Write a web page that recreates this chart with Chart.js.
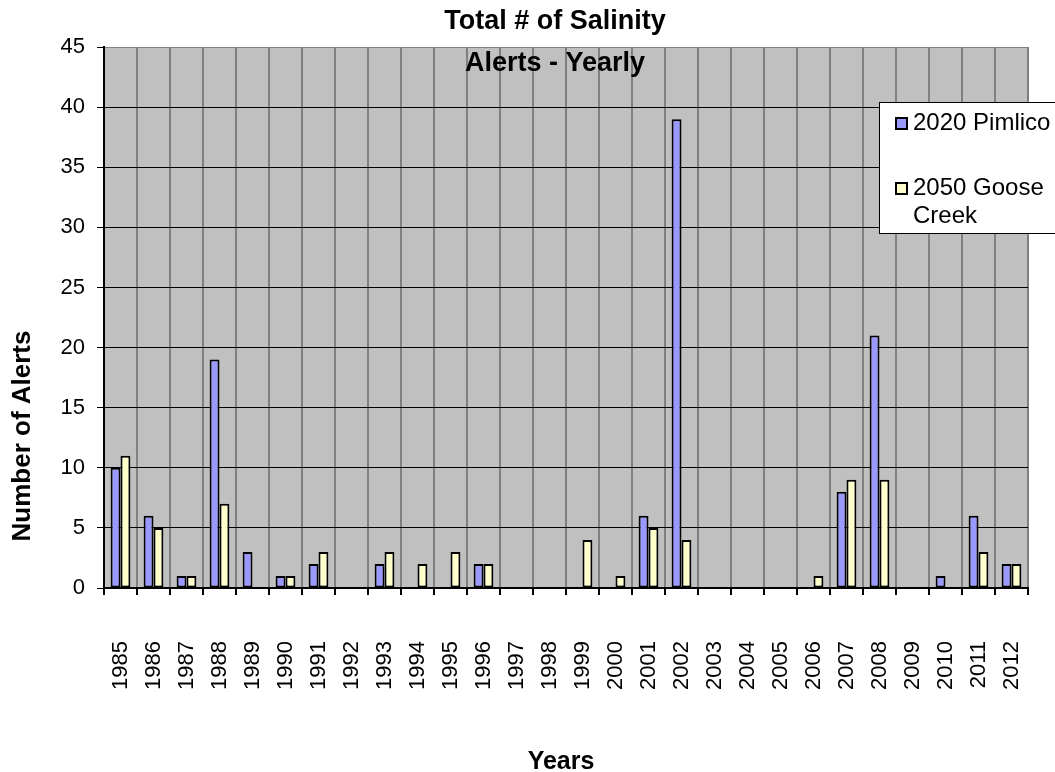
<!DOCTYPE html>
<html>
<head>
<meta charset="utf-8">
<script src="https://cdn.jsdelivr.net/npm/chart.js@4"></script>
<style>
  html, body { margin: 0; padding: 0; background: #fff; }
  #wrap { width: 1055px; height: 772px; }
</style>
</head>
<body>
<div id="wrap"><canvas id="alertsChart" width="1055" height="772"></canvas></div>
<script>
const years = ["1985", "1986", "1987", "1988", "1989", "1990", "1991", "1992", "1993", "1994",
    "1995", "1996", "1997", "1998", "1999", "2000", "2001", "2002", "2003", "2004",
    "2005", "2006", "2007", "2008", "2009", "2010", "2011", "2012"];

const pimlico = [10, 6, 1, 19, 3, 1, 2, 0, 2, 0, 0, 2, 0, 0, 0, 0, 6, 39, 0, 0, 0, 0, 8, 21, 0, 1, 6, 2];
const goose = [11, 5, 1, 7, 0, 1, 3, 0, 3, 2, 3, 2, 0, 0, 4, 1, 5, 4, 0, 0, 0, 1, 9, 9, 0, 0, 3, 2];

const titleLines = ["Total # of Salinity", "Alerts - Yearly"];
const seriesNames = ["2020 Pimlico", ["2050 Goose", "Creek"]];
const seriesColors = ["#9999FF", "#FFFFCC"];

const FONT = '"Liberation Sans", Arial, sans-serif';

// grey plot background, drawn before the grid
const plotBg = {
    id: "plotBg",
    beforeDraw(chart) {
        const { ctx, chartArea: a } = chart;
        ctx.save();
        ctx.fillStyle = "#C0C0C0";
        ctx.fillRect(a.left, a.top, a.right - a.left, a.bottom - a.top);
        ctx.restore();
    }
};

// title, axis titles and the boxed legend sit where excel put them
const extras = {
    id: "extras",
    afterDraw(chart) {
        const ctx = chart.ctx;
        ctx.save();
        ctx.fillStyle = "#000";
        ctx.textAlign = "center";
        ctx.textBaseline = "middle";

        ctx.font = "bold 27px " + FONT;
        ctx.fillText(titleLines[0], 555, 22);
        ctx.fillText(titleLines[1], 555, 64);

        ctx.font = "bold 25px " + FONT;
        ctx.fillText("Years", 561, 762);

        ctx.save();
        ctx.translate(23, 436);
        ctx.rotate(-Math.PI / 2);
        ctx.font = "bold 26px " + FONT;
        ctx.fillText("Number of Alerts", 0, 0);
        ctx.restore();

        // legend box
        ctx.fillStyle = "#fff";
        ctx.fillRect(879, 102, 200, 131);
        ctx.strokeStyle = "#000";
        ctx.lineWidth = 1;
        ctx.strokeRect(879.5, 102.5, 200, 131);

        const rows = [123, 188];
        ctx.font = "24px " + FONT;
        ctx.textAlign = "left";
        rows.forEach((y, i) => {
            ctx.fillStyle = seriesColors[i];
            ctx.fillRect(896, y - 5, 11, 11);
            ctx.lineWidth = 2;
            ctx.strokeStyle = "#000";
            ctx.strokeRect(896, y - 5, 11, 11);
            ctx.fillStyle = "#000";
            const name = seriesNames[i];
            if (Array.isArray(name)) {
                name.forEach((t, k) => ctx.fillText(t, 913, y + k * 28));
            } else {
                ctx.fillText(name, 913, y);
            }
        });
        ctx.restore();
    }
};

new Chart(document.getElementById("alertsChart"), {
    type: "bar",
    data: {
        labels: years,
        datasets: [
            { label: "2020 Pimlico", data: pimlico, backgroundColor: seriesColors[0] },
            { label: "2050 Goose Creek", data: goose, backgroundColor: seriesColors[1] }
        ]
    },
    options: {
        responsive: false,
        animation: false,
        layout: { padding: { top: 47, right: 27, left: 0, bottom: 0 } },
        datasets: {
            bar: {
                borderColor: "#000",
                borderWidth: 2,
                borderSkipped: false,
                categoryPercentage: 0.6,
                barPercentage: 1.0
            }
        },
        plugins: {
            legend: { display: false },
            title: { display: false },
            tooltip: { enabled: false }
        },
        scales: {
            x: {
                offset: true,
                grid: {
                    offset: true,
                    color: "#808080",
                    lineWidth: 2,
                    tickLength: 7,
                    tickColor: "#000"
                },
                border: { color: "#000", width: 2 },
                ticks: {
                    color: "#000",
                    font: { family: FONT, size: 22 },
                    minRotation: 90,
                    maxRotation: 90,
                    autoSkip: false,
                    padding: 46
                },
                afterFit(scale) {
                    scale.height = 184;
                    scale.paddingLeft = 0;
                    scale.paddingRight = 0;
                }
            },
            y: {
                min: 0,
                max: 45,
                grid: {
                    color: ctx => ctx.tick && ctx.tick.value === 45 ? "#808080" : "#000",
                    lineWidth: 1,
                    tickLength: 7,
                    tickColor: "#000"
                },
                border: { color: "#000", width: 2 },
                ticks: {
                    stepSize: 5,
                    color: "#000",
                    font: { family: FONT, size: 22 },
                    padding: 12
                },
                afterFit(scale) { scale.width = 104; }
            }
        }
    },
    plugins: [plotBg, extras]
});
</script>
</body>
</html>
